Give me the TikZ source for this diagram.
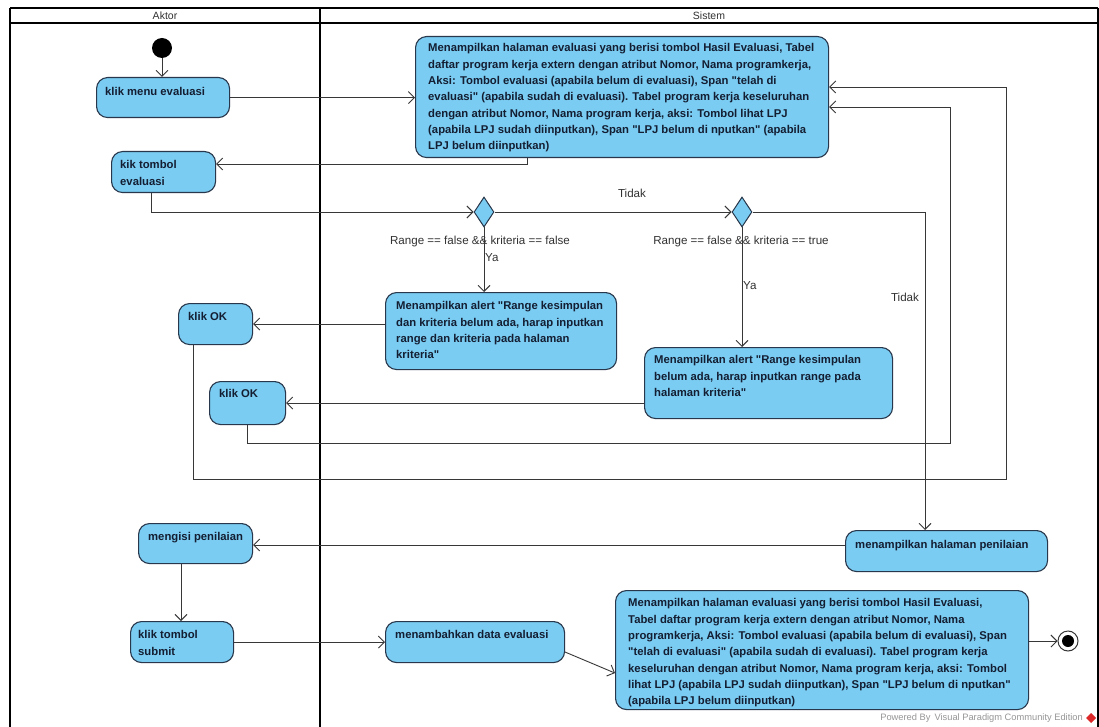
\documentclass[tikz,border=0pt]{standalone}
\usepackage{fontspec}
\setmainfont{Liberation Sans}[Ligatures=TeXOff]
\usetikzlibrary{arrows.meta,shapes.geometric,calc}
\definecolor{boxfill}{RGB}{122,204,242}
\definecolor{boxline}{RGB}{40,55,75}
\definecolor{txtcol}{RGB}{20,30,50}
\definecolor{linecol}{RGB}{55,55,55}
\definecolor{labcol}{RGB}{50,50,50}
\definecolor{wmcol}{RGB}{150,150,150}
\definecolor{logored}{RGB}{220,40,40}
\begin{document}
\begin{tikzpicture}[x=1pt,y=-1pt,
  act/.style={draw=boxline,fill=boxfill,line width=1.1pt,rounded corners=11pt,inner sep=0pt,anchor=north west},
  txt/.style={font=\bfseries\fontsize{11.3}{16.3}\selectfont,text=txtcol,align=left,anchor=north west,inner sep=0pt},
  conn/.style={draw=linecol,line width=0.9pt},
  arr/.style={conn,-{Straight Barb[length=6pt,width=12pt,line width=0.9pt]}},
  guard/.style={font=\fontsize{11.6}{13}\selectfont,text=labcol,inner sep=0pt},
  dec/.style={diamond,draw=boxline,fill=boxfill,line width=1pt,minimum width=20pt,minimum height=30pt,inner sep=0pt},
  lane/.style={draw=black,line width=1.8pt},
  head/.style={font=\fontsize{10.5}{12}\selectfont,text=labcol,inner sep=0pt}
]
\useasboundingbox (0,0) rectangle (1099,727);
\fill[white] (0,0) rectangle (1099,727);

% swimlanes
\draw[lane] (10,8) -- (1098,8);
\draw[lane] (10,23) -- (1098,23);
\draw[lane] (10,8) -- (10,727);
\draw[lane] (320,8) -- (320,727);
\draw[lane] (1098,8) -- (1098,727);
\node[head] (hAktor) at (165,15.5) {Aktor};
\node[head] (hSistem) at (709,15.5) {Sistem};

% initial / final
\node[circle,fill=black,minimum size=20pt,inner sep=0pt] (init) at (162,48) {};
\node[circle,draw=linecol,fill=white,line width=1pt,minimum size=20pt,inner sep=0pt] (fin) at (1068,641) {};
\node[circle,fill=black,minimum size=12pt,inner sep=0pt] (fincore) at (fin.center) {};

% actions
\node[act,minimum width=133,minimum height=40] (a1) at (96,77) {};
\node[txt] (a1t) at (105,87.5) {klik menu evaluasi};

\node[act,minimum width=104,minimum height=41] (a2) at (111,151) {};
\node[txt] (a2t) at (120,160.5) {kik tombol\\evaluasi};

\node[act,minimum width=413,minimum height=121] (b1) at (415,36) {};
\node[txt] (b1t) at (428,43.5) {Menampilkan halaman evaluasi yang berisi tombol Hasil Evaluasi, Tabel\\
daftar program kerja extern dengan atribut Nomor, Nama programkerja,\\
Aksi: Tombol evaluasi (apabila belum di evaluasi), Span "telah di\\
evaluasi" (apabila sudah di evaluasi). Tabel program kerja keseluruhan\\
dengan atribut Nomor, Nama program kerja, aksi: Tombol lihat LPJ\\
(apabila LPJ sudah diinputkan), Span "LPJ belum di nputkan" (apabila\\
LPJ belum diinputkan)};

\node[dec] (d1) at (484,212) {};
\node[dec] (d2) at (742,212) {};

\node[act,minimum width=231,minimum height=77] (al1) at (385,292) {};
\node[txt] (al1t) at (396,301.5) {Menampilkan alert "Range kesimpulan\\
dan kriteria belum ada, harap inputkan\\
range dan kriteria pada halaman\\
kriteria"};

\node[act,minimum width=248,minimum height=71] (al2) at (644,347) {};
\node[txt] (al2t) at (654,355.5) {Menampilkan alert "Range kesimpulan\\
belum ada, harap inputkan range pada\\
halaman kriteria"};

\node[act,minimum width=74,minimum height=41] (ok1) at (178,303) {};
\node[txt] (ok1t) at (188,312.5) {klik OK};

\node[act,minimum width=76,minimum height=43] (ok2) at (209,381) {};
\node[txt] (ok2t) at (219,389.5) {klik OK};

\node[act,minimum width=202,minimum height=41] (c1) at (845,530) {};
\node[txt] (c1t) at (855,540.5) {menampilkan halaman penilaian};

\node[act,minimum width=114,minimum height=40] (e1) at (138,523) {};
\node[txt] (e1t) at (148,532.5) {mengisi penilaian};

\node[act,minimum width=103,minimum height=41] (e2) at (130,621) {};
\node[txt] (e2t) at (138,630.5) {klik tombol\\submit};

\node[act,minimum width=179,minimum height=41] (e3) at (385,621) {};
\node[txt] (e3t) at (395,630.5) {menambahkan data evaluasi};

\node[act,minimum width=413,minimum height=119] (b2) at (615,590) {};
\node[txt] (b2t) at (628,598.5) {Menampilkan halaman evaluasi yang berisi tombol Hasil Evaluasi,\\
Tabel daftar program kerja extern dengan atribut Nomor, Nama\\
programkerja, Aksi: Tombol evaluasi (apabila belum di evaluasi), Span\\
"telah di evaluasi" (apabila sudah di evaluasi). Tabel program kerja\\
keseluruhan dengan atribut Nomor, Nama program kerja, aksi: Tombol\\
lihat LPJ (apabila LPJ sudah diinputkan), Span "LPJ belum di nputkan"\\
(apabila LPJ belum diinputkan)};

% helper coordinates
\coordinate (p1) at (527,164);
\coordinate (p2) at (151,212);
\coordinate (p3) at (925,212);
\coordinate (q1) at (193,479);
\coordinate (q2) at (1006,479);
\coordinate (q3) at (1006,87);
\coordinate (r1) at (247,443);
\coordinate (r2) at (950,443);
\coordinate (r3) at (950,107);
\coordinate (s1) at (181,545);

% connectors
\draw[arr] (init) -- (init |- a1.north);
\draw[arr] (a1.east) -- (a1.east -| b1.west);
\draw[arr] (b1.south -| p1) |- (a2.east |- p1);
\draw[arr] (a2.south -| p2) |- (d1.west);
\draw[arr] (d1.east) -- (d2.west);
\draw[arr] (d2.east) -| (c1.north -| p3);
\draw[arr] (d1.south) -- (d1.south |- al1.north);
\draw[arr] (d2.south) -- (d2.south |- al2.north);
\draw[arr] (al1.west |- ok1.east) -- (ok1.east);
\draw[arr] (al2.west |- ok2.east) -- (ok2.east);
\draw[arr] (ok1.south -| q1) -- (q1) -- (q2) -- (q3) -- (b1.east |- q3);
\draw[arr] (ok2.south -| r1) -- (r1) -- (r2) -- (r3) -- (b1.east |- r3);
\draw[arr] (c1.west |- s1) -- (e1.east |- s1);
\draw[arr] (e1.south -| s1) -- (e2.north -| s1);
\draw[arr] (e2.east) -- (e2.east -| e3.west);
\draw[arr] ([yshift=-10pt]e3.east) -- ([yshift=-23pt]b2.west);
\draw[arr] (b2.east |- fin) -- (fin.west);

% guard labels
\node[guard] (g1) at (632,193) {Tidak};
\node[guard] (g2) at (905,297) {Tidak};
\node[guard] (g3) at (480,242) {Range == false \&\& kriteria == false};
\node[guard,anchor=west] (g4) at (485,258) {Ya};
\node[guard] (g5) at (741,242) {Range == false \&\& kriteria == true};
\node[guard,anchor=west] (g6) at (743,286) {Ya};

% watermark
\node[font=\fontsize{9.3}{11}\selectfont,text=wmcol,inner sep=0pt,anchor=east] (pw) at (1083,718) {Powered By \,Visual Paradigm Community Edition};
\fill[logored] (1086,718) -- (1091,713) -- (1096,718) -- (1091,723) -- cycle;
\end{tikzpicture}
\end{document}
